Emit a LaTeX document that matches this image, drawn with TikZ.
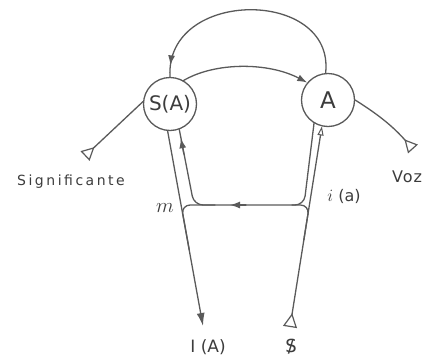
\documentclass[tikz,border=0pt]{standalone}
\usepackage{fontspec}
\setmainfont{DejaVu Sans}
\newfontfamily\sigfont[LetterSpace=18]{DejaVu Sans}
\newfontfamily\vozfont[LetterSpace=6]{DejaVu Sans}
\usetikzlibrary{arrows.meta,decorations.markings}
\definecolor{ink}{HTML}{5A5A5A}
\definecolor{txt}{HTML}{3C3C3C}
\newcommand{\barredS}{\ooalign{S\cr\hidewidth/\hidewidth\cr}}
\begin{document}
\begin{tikzpicture}[x=1pt,y=-1pt,
  ln/.style={draw=ink, line width=1.3pt, line cap=round, line join=round},
  circ/.style={circle, draw=ink, line width=1.3pt, minimum size=53pt, inner sep=0pt, text=txt},
  tail/.style={-{Triangle[open, reversed, length=13pt, width=13pt, line width=1.2pt]}},
  tipa/.style={-{Latex[length=10pt,width=7pt]}},
  lbl/.style={text=txt, inner sep=0pt}]
\path[use as bounding box] (0,0) rectangle (425,362);

% circles
\node[circ, font=\fontsize{20}{24}\selectfont] (S) at (170,104) {S(A)};
\node[circ, font=\fontsize{23}{26}\selectfont] (A) at (328,100) {A};

% coordinates
\coordinate (sigE) at (85,156);
\coordinate (vozE) at (413,149);
\coordinate (IA) at (203,326);
\coordinate (barS) at (290,327);
\coordinate (jl) at (194,205);
\coordinate (jr) at (304,205);
\coordinate (hl) at (215,205);
\coordinate (ol) at (181.2,205);
\coordinate (olb) at (189.3,250);
\coordinate (hr) at (292,205);
\coordinate (or) at (309.4,205);
\coordinate (orb) at (303.8,240);
\coordinate (ha1) at (246,205);
\coordinate (ha2) at (230,205);
\coordinate (ua1) at (183.9,154);
\coordinate (ua2) at (180.8,138.2);

% top retro arc
\draw[ln, decoration={markings, mark=at position 0.95 with {\arrow{Latex[length=10pt,width=7pt]}}}, postaction={decorate}]
  (A.95) .. controls (335,-12) and (165,-12) .. (S.90);
% S(A) -> A
\draw[ln, tipa] (S.60) .. controls (215,62) and (268,62) .. (A.140);
% Significante
\draw[ln, tail] (S.175) -- (sigE);
% Voz
\draw[ln, tail] (A.0) to[bend left=8] (vozE);
% S(A) -> I(A)
\draw[ln, -{Latex[length=13pt,width=8pt]}] (S.-95) -- (IA);
% inner loop: S(A) - horizontal - A
\draw[ln, rounded corners=9pt] (S.-70) -- (jl) -- (jr) -- (A.-121);
% lower forks
\draw[ln, rounded corners=9pt] (hl) -- (ol) -- (olb);
\draw[ln, rounded corners=9pt] (hr) -- (or) -- (orb);
% $ line up to A
\draw[ln, {Triangle[open, reversed, length=14pt, width=14pt, line width=1.2pt]}-{Triangle[open, length=9pt, width=6pt, line width=1pt]}] (barS) -- (A.-103);
% mid arrows
\draw[ln, tipa] (ha1) -- (ha2);
\draw[ln, tipa] (ua1) -- (ua2);

% labels
\node[lbl, font=\sigfont\fontsize{14}{16}\selectfont] (sig) at (71,182) {Significante};
\node[lbl, font=\vozfont\fontsize{16}{18}\selectfont] (voz) at (407,177) {Voz};
\node[lbl, font=\fontsize{17}{20}\selectfont] (ia) at (208,347) {I (A)};
\node[lbl, font=\fontsize{18}{20}\selectfont] (bs) at (291,347) {\barredS};
\node[lbl, font=\fontsize{20}{22}\selectfont] (m) at (165,208) {$m$};
\node[lbl, font=\fontsize{16}{18}\selectfont] (ia2) at (344,196) {$i$ (a)};
\end{tikzpicture}
\end{document}
